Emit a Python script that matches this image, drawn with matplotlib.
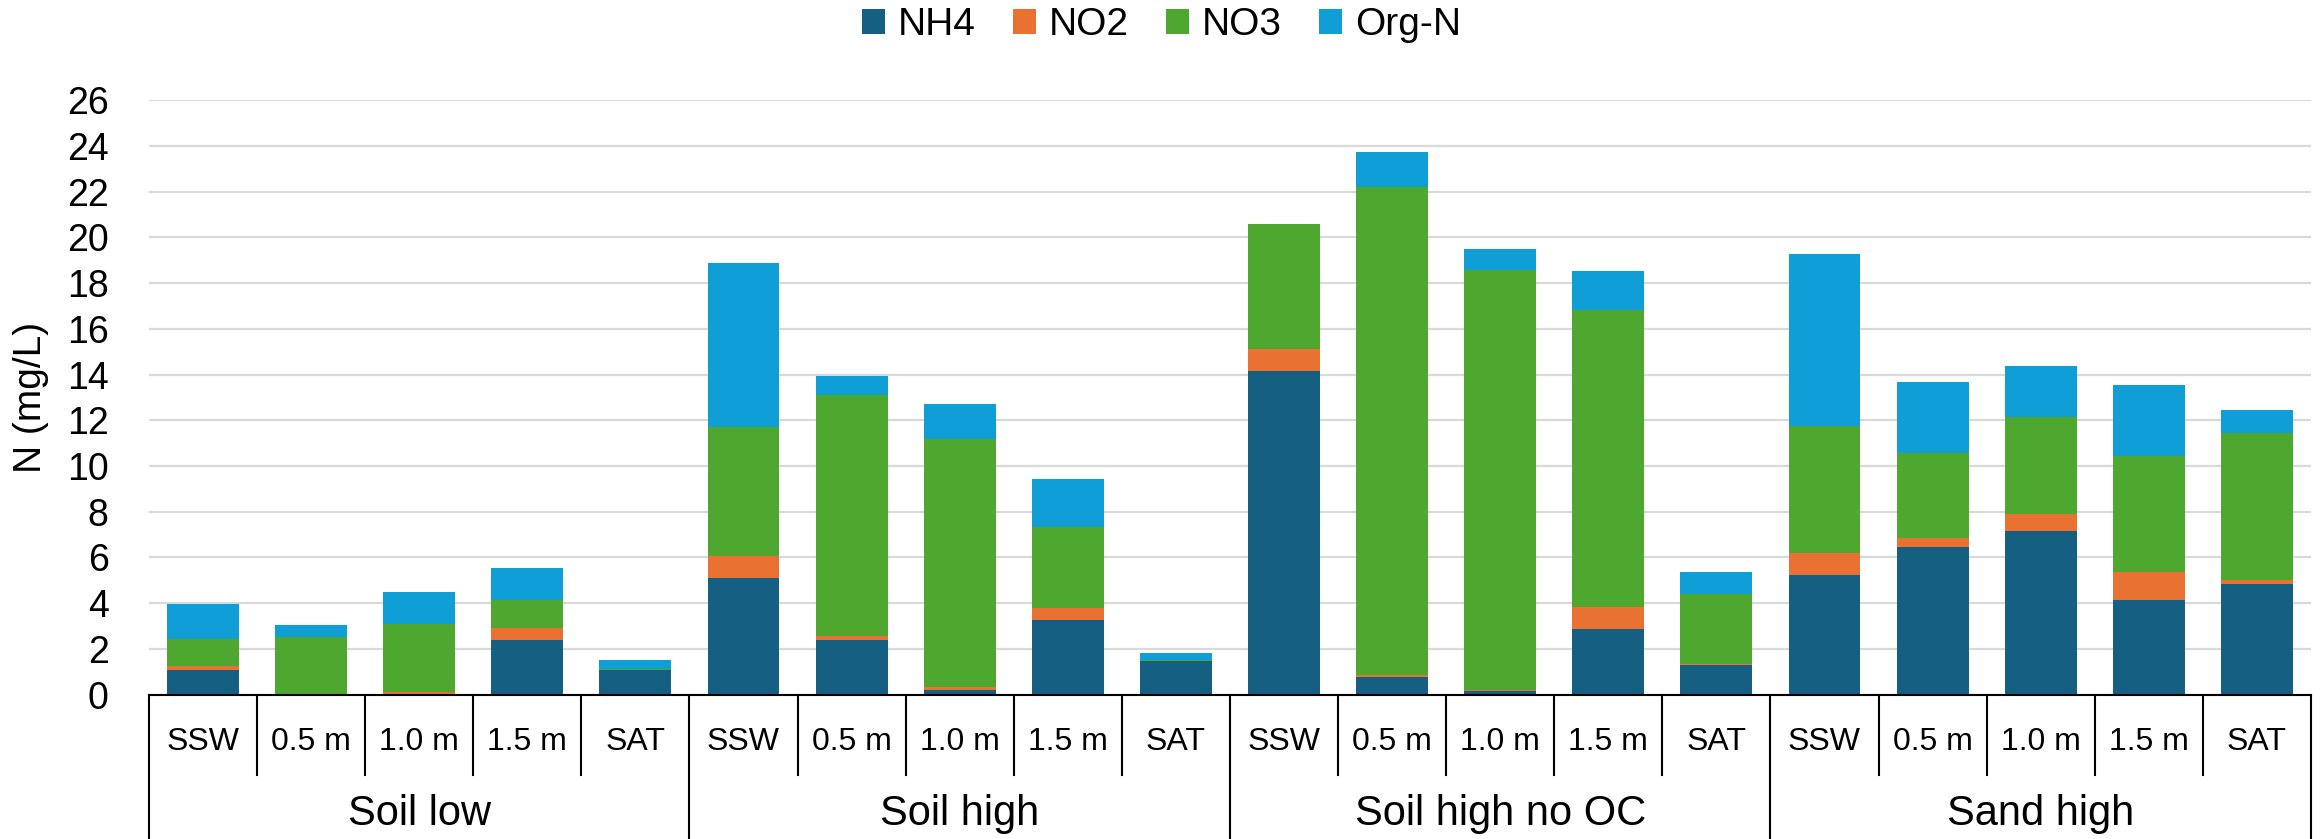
import numpy as np
import matplotlib
matplotlib.use("Agg")
import matplotlib.pyplot as plt
from matplotlib.transforms import blended_transform_factory

plt.rcParams["font.family"] = ["Liberation Sans", "DejaVu Sans"]

groups = ["Soil low", "Soil high", "Soil high no OC", "Sand high"]
depths = ["SSW", "0.5 m", "1.0 m", "1.5 m", "SAT"]

# N species (mg/L), 5 sampling points per column
nh4 = [1.06, 0.00, 0.05, 2.41, 1.10,
       5.12, 2.37, 0.20, 3.25, 1.49,
       14.16, 0.78, 0.18, 2.89, 1.29,
       5.24, 6.47, 7.17, 4.12, 4.82]
no2 = [0.20, 0.00, 0.07, 0.50, 0.00,
       0.94, 0.18, 0.12, 0.55, 0.00,
       0.96, 0.08, 0.02, 0.93, 0.06,
       0.94, 0.38, 0.72, 1.24, 0.18]
no3 = [1.18, 2.53, 2.97, 1.21, 0.03,
       5.65, 10.54, 10.84, 3.55, 0.04,
       5.48, 21.35, 18.39, 12.99, 3.05,
       5.59, 3.71, 4.26, 5.06, 6.43]
org_n = [1.53, 0.50, 1.39, 1.44, 0.40,
         7.17, 0.83, 1.57, 2.09, 0.30,
         0.00, 1.50, 0.91, 1.70, 0.98,
         7.51, 3.13, 2.23, 3.11, 1.02]

series = [("NH4", nh4, "#156082"),
          ("NO2", no2, "#E97132"),
          ("NO3", no3, "#4EA72E"),
          ("Org-N", org_n, "#0F9ED5")]

n = len(groups) * len(depths)
x = np.arange(n)

fig = plt.figure(figsize=(23.23, 8.39), dpi=100)
ax = fig.add_axes([0.0641, 0.172, 0.9307, 0.7087])

bottom = np.zeros(n)
for name, vals, color in series:
    vals = np.array(vals)
    ax.bar(x, vals, 0.665, bottom=bottom, color=color, label=name, zorder=3)
    bottom += vals

ax.set_xlim(-0.5, n - 0.5)
ax.set_ylim(0, 26)
ax.set_yticks(np.arange(0, 27, 2))
ax.tick_params(axis="y", length=0, pad=29, labelsize=27)
ax.set_xticks([])
ax.grid(axis="y", color="#d9d9d9", linewidth=1.6, zorder=0)
for s in ["top", "right", "left"]:
    ax.spines[s].set_visible(False)
ax.spines["bottom"].set_color("black")
ax.spines["bottom"].set_linewidth(1.5)
ax.spines["bottom"].set_zorder(4)

ax.set_ylabel("N (mg/L)", fontsize=28)
ax.yaxis.set_label_coords(-0.046, 0.5)

# two-level category axis below the bars
trans = blended_transform_factory(ax.transData, ax.transAxes)
y_sub, y_inner, y_grp, y_end = -0.079, -0.135, -0.200, -0.26
for i in range(n):
    ax.text(x[i], y_sub, depths[i % len(depths)], transform=trans,
            ha="center", va="center", fontsize=23, clip_on=False)
for b in np.arange(-0.5, n, 1.0):
    is_group = (b + 0.5) % len(depths) == 0
    ax.plot([b, b], [0, y_end if is_group else y_inner], transform=trans,
            color="black", linewidth=1.5, clip_on=False)
for g, name in enumerate(groups):
    cx = g * len(depths) + (len(depths) - 1) / 2
    ax.text(cx, y_grp, name, transform=trans, ha="center", va="center",
            fontsize=30, clip_on=False)

fig.legend(loc="center", bbox_to_anchor=(0.5, 0.970), ncol=4, frameon=False,
           fontsize=28, handlelength=0.6, handleheight=0.62,
           handletextpad=0.33, columnspacing=0.95)

fig.savefig("out.png", dpi=100)
